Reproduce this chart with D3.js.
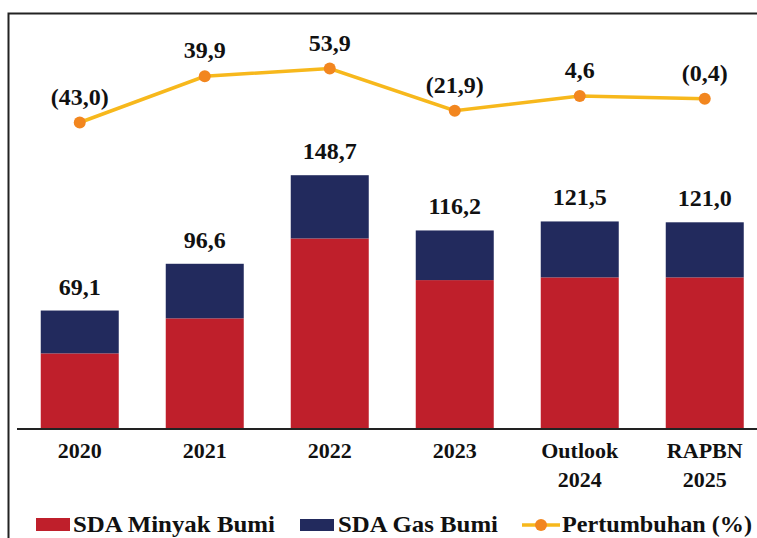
<!DOCTYPE html>
<html>
<head>
<meta charset="utf-8">
<script src="https://cdn.jsdelivr.net/npm/d3@7"></script>
<style>
  html, body { margin: 0; padding: 0; background: #ffffff; }
  svg { display: block; }
</style>
</head>
<body>
<svg id="chart" width="757" height="538"></svg>
<script>
// ---- data ----
const categories = ["2020", "2021", "2022", "2023", "Outlook\n2024", "RAPBN\n2025"];
const minyakBumi = [43.9, 64.5, 111.5, 87.0, 88.6, 88.6];
const gasBumi    = [25.2, 32.1, 37.2, 29.2, 32.9, 32.4];
const totalLabels = ["69,1", "96,6", "148,7", "116,2", "121,5", "121,0"];
const growth = [-43.0, 39.9, 53.9, -21.9, 4.6, -0.4];
const growthLabels = ["(43,0)", "39,9", "53,9", "(21,9)", "4,6", "(0,4)"];
const seriesNames = ["SDA Minyak Bumi", "SDA Gas Bumi", "Pertumbuhan (%)"];

// ---- styles ----
const RED = "#BF1F2B", NAVY = "#222A5D", LINE = "#F7B81C", DOT = "#F2861F", INK = "#111111";
const FONT = "'Liberation Serif', 'Times New Roman', serif";

const svg = d3.select("#chart");

// frame
svg.append("path")
  .attr("d", "M8.5,540 L8.5,13.5 L760,13.5")
  .attr("fill", "none").attr("stroke", "#222").attr("stroke-width", 2);

// scales
const x = d3.scaleBand().domain(categories).range([17, 767.5])
  .paddingInner(0.376).paddingOuter(0.19);
const y = d3.scaleLinear().domain([0, 160]).range([428, 428 - 160 * 1.70]);
const yg = d3.scaleLinear().domain([-43, 53.9]).range([122.5, 68.5]);

// stacked data
const rows = categories.map((c, i) => ({ cat: c, minyak: minyakBumi[i], gas: gasBumi[i] }));
const stack = d3.stack().keys(["minyak", "gas"])(rows);
const colors = { minyak: RED, gas: NAVY };

svg.append("g").selectAll("g").data(stack).join("g")
  .attr("fill", d => colors[d.key])
  .selectAll("rect").data(d => d).join("rect")
  .attr("x", d => x(d.data.cat))
  .attr("width", x.bandwidth())
  .attr("y", d => y(d[1]))
  .attr("height", d => y(d[0]) - y(d[1]));

// total labels
svg.append("g").selectAll("text").data(rows).join("text")
  .attr("x", d => x(d.cat) + x.bandwidth() / 2)
  .attr("y", d => y(d.minyak + d.gas) - 16)
  .attr("text-anchor", "middle")
  .attr("font-family", FONT).attr("font-weight", "bold").attr("font-size", 24)
  .attr("fill", INK)
  .text((d, i) => totalLabels[i]);

// x axis
const xAxis = svg.append("g").attr("transform", "translate(0,429)")
  .call(d3.axisBottom(x).tickSize(0).tickFormat(""));
xAxis.select(".domain").attr("d", "M17,0H760").attr("stroke", "#222").attr("stroke-width", 2);
xAxis.selectAll(".tick").each(function(d) {
  const lines = d.split("\n");
  const t = d3.select(this).append("text")
    .attr("text-anchor", "middle")
    .attr("font-family", FONT).attr("font-weight", "bold").attr("font-size", 22)
    .attr("fill", INK);
  lines.forEach((ln, k) => {
    t.append("tspan").attr("x", 0).attr("y", 29 + k * 29).text(ln);
  });
});

// growth line
const cx = c => x(c) + x.bandwidth() / 2;
const pts = categories.map((c, i) => [cx(c), yg(growth[i])]);
svg.append("path")
  .attr("d", d3.line()(pts))
  .attr("fill", "none").attr("stroke", LINE).attr("stroke-width", 3.5);
svg.append("g").selectAll("circle").data(pts).join("circle")
  .attr("cx", d => d[0]).attr("cy", d => d[1]).attr("r", 6).attr("fill", DOT);
svg.append("g").selectAll("text").data(pts).join("text")
  .attr("x", d => d[0]).attr("y", d => d[1] - 18)
  .attr("text-anchor", "middle")
  .attr("font-family", FONT).attr("font-weight", "bold").attr("font-size", 24)
  .attr("fill", INK)
  .text((d, i) => growthLabels[i]);

// legend
const leg = svg.append("g").attr("font-family", FONT).attr("font-weight", "bold")
  .attr("font-size", 23).attr("fill", INK);
leg.append("rect").attr("x", 36).attr("y", 518).attr("width", 34).attr("height", 13).attr("fill", RED);
leg.append("text").attr("x", 73).attr("y", 532).text(seriesNames[0])
  .attr("textLength", 202).attr("lengthAdjust", "spacingAndGlyphs");
leg.append("rect").attr("x", 300).attr("y", 519).attr("width", 34).attr("height", 12).attr("fill", NAVY);
leg.append("text").attr("x", 338).attr("y", 532).text(seriesNames[1])
  .attr("textLength", 160).attr("lengthAdjust", "spacingAndGlyphs");
leg.append("line").attr("x1", 522).attr("x2", 560).attr("y1", 525).attr("y2", 525)
  .attr("stroke", LINE).attr("stroke-width", 3.5);
leg.append("circle").attr("cx", 541).attr("cy", 525).attr("r", 6).attr("fill", DOT);
leg.append("text").attr("x", 562).attr("y", 532).text(seriesNames[2])
  .attr("textLength", 190).attr("lengthAdjust", "spacingAndGlyphs");
</script>
</body>
</html>
